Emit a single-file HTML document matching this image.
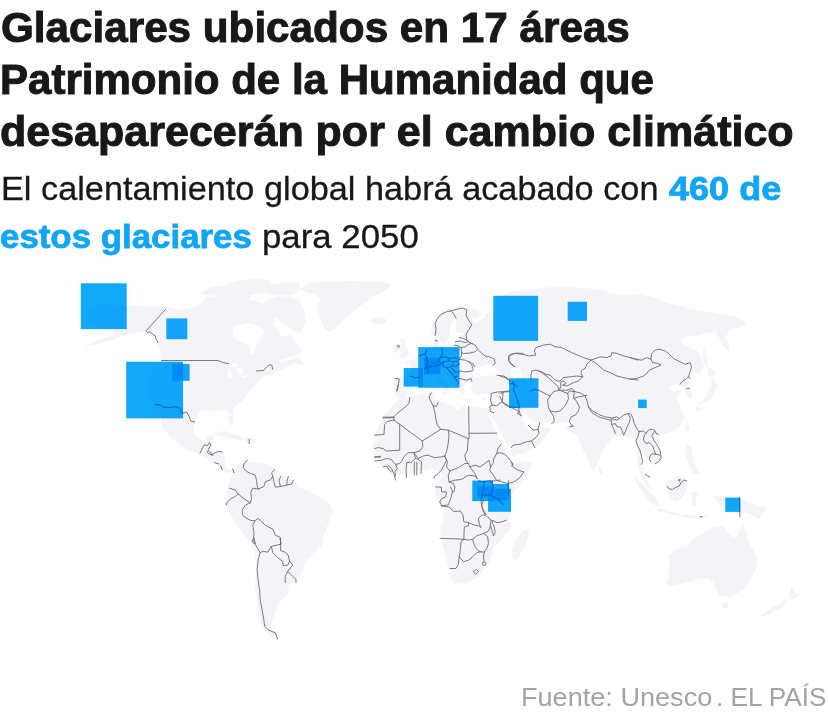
<!DOCTYPE html>
<html lang="es"><head><meta charset="utf-8"><title>Glaciares Patrimonio de la Humanidad</title>
<style>
html,body{margin:0;padding:0;background:#fff;}
body{width:828px;height:718px;overflow:hidden;position:relative;font-family:"Liberation Sans",sans-serif;}
.t{position:absolute;white-space:nowrap;transform-origin:0 0;color:#181818;}
.h{font-weight:bold;-webkit-text-stroke:1px #181818;}
.s{-webkit-text-stroke:0.3px #181818;}
.b{font-weight:bold;color:#10a5f5;-webkit-text-stroke:0.8px #10a5f5;}
.f{color:#a3a3a3;}
#map{position:absolute;left:0;top:0;}
</style></head><body>
<svg id="map" width="828" height="718" viewBox="0 0 828 718">
<g fill="#f4f4f8" stroke="#f4f4f8" stroke-width="0.6" stroke-linejoin="round">
<g id="ld">
<path d="M85.1,312.6 87.6,307.6 100.1,305.1 126.7,306.6 145.2,306.6 165.3,307.6 177.8,310.1 190.3,308.8 200.4,303.8 205.4,298.8 212.9,297.1 222.9,298.1 232.9,301.3 240.5,305.1 250.5,307.6 260.5,308.8 250.1,310.1 240.1,311.4 237.6,320.1 232.6,327.6 232.6,336.7 236.8,340.1 243.4,342.6 249.3,345.9 250.1,351.8 252.6,355.1 255.1,351.8 255.1,345.9 258.5,343.4 262.6,338.4 264.3,331.7 266.8,327.5 273.5,326.7 278.5,329.2 280.2,335.1 285.2,337.6 291,334.2 293.6,340.1 298.6,345.9 301.9,350.9 300.2,353.4 293.6,355.9 286.9,357.6 280.2,359.3 275.2,361 280.2,362.1 288.5,360.1 294.4,359.3 296.1,361.8 290.2,365.1 283.5,368.5 276.8,371.8 270.2,374.3 263.5,376.8 256.8,381.8 251.8,388.5 246.8,395.2 241.8,401 235.9,406.1 232.6,409.9 233.4,416.9 232.6,423.6 230.4,424.4 228.4,416.9 227.6,410.6 220,410.2 210,411.1 200,409.9 199.8,410.4 195.3,420.4 194.6,422.1 194.6,422.1 193.1,427.6 195.1,435.1 200.1,440.1 206.4,440.1 207.1,437.1 213.2,435.1 212.2,443.9 210.2,448.9 215.7,451.4 223.2,451.9 225.2,456.4 223.9,462.7 225.2,467.7 230.2,470.7 235.2,469.4 237.7,465.7 239.7,468.2 234,473.2 225.2,472.2 217.7,465.7 210.2,459.4 200.1,454.4 187.6,449.4 175.1,440.6 165,430.6 160,421.3 167.8,420.4 162.8,412.9 154.7,404.6 150.2,395.3 148.2,382.8 152.7,370.3 161.5,361.5 160.3,352.7 158.2,342.7 146,330.9 135.2,332.7 126.7,333.9 115.1,338.9 100.1,342.7 85.1,346.4 100.1,340.2 115.1,333.9 110.1,330.2 97.6,326.4 87.6,320.1Z"/>
<path d="M155.2,405.3 159,410.4 162.8,420.4 167.8,432.9 171.5,440.4 170.3,432.9 165.3,420.4 160.3,409.1Z"/>
<path d="M200.4,293.8 210.4,287.5 230.4,285 245.5,288.8 250.5,297.6 240.5,301.3 225.4,296.3 210.4,295.1Z"/>
<path d="M235.4,281.3 255.5,278.8 267,280 270.2,285 262.7,292.6 245.1,295.1 230.1,293.8 215,291.3Z"/>
<path d="M205,297.6 225.1,296.3 245.1,298.8 260.2,302.6 262.7,310.1 250.1,312.6 230.1,305.1 210,303.8Z"/>
<path d="M266.4,300.1 282.7,296.3 299,300.1 304,310.1 305.3,322.6 300.3,332.7 292.7,330.2 285.2,323.9 275.2,317.6 267.7,310.1Z"/>
<path d="M262.7,286.3 282.7,283 299,282.5 300.3,290.1 292.7,295.1 275.2,295.1 263.9,292.6Z"/>
<path d="M235.1,307.6 265.2,302.6 275.2,315.1 272.7,326.4 264.2,330.2 260.2,325.6 247.6,323.1 235.1,325.6 232.1,328.1 237.6,320.1 240.1,311.4Z"/>
<path d="M300.3,288.8 310.3,283.8 330.3,281.8 360.4,281.3 386.7,283 391,285.5 383,291.3 372.9,296.3 362.9,303.8 352.9,311.4 342.9,320.1 334.1,328.9 329.1,331.9 325.3,328.9 321.6,321.4 319,312.6 317.8,305.1 320.8,298.8 315.3,293.8 306.5,292.1Z"/>
<path d="M370.9,320.1 375.4,317.6 383,318.1 386.7,320.1 384.2,323.1 376.7,324.1 372.4,322.6Z"/>
<path d="M295.2,357.6 300.2,358.4 303.6,365.1 299.4,364.3 293.6,361.8Z"/>
<path d="M213.9,433.8 223.9,431.3 235.2,434.6 244,438.1 242.7,440.6 232.7,438.1 222.7,436.3Z"/>
<path d="M245.2,437.6 251.5,437.6 256.5,440.1 254,443.1 246.5,442.6Z"/>
<path d="M234,473.2 232.7,471.4 239,463.9 246.5,459.6 250.3,462.7 260.3,462.7 267.8,464.7 275.3,468.9 282.8,475.2 292.9,480.2 300.4,487.7 310.4,492.7 322.9,499 330.5,505.3 332.2,511.5 329.2,520.3 325.4,530.3 324.1,532.5 321.6,545.1 312.8,555.1 304,562.6 303.3,570.1 296.5,581.4 286.5,585.2 289,592.7 284,597.7 277.7,602.7 275.2,610.2 272.7,620.3 270.2,627.8 276.4,632.8 278.2,639 275.2,639 266.4,632.8 261.4,625.3 258.9,607.7 255.6,590.2 256.4,570.1 255.6,552.6 250.1,541.3 240.1,530 233.8,520 234,520.3 228.9,510.3 225.2,502.8 225.9,495.2 228.2,487.7 229.7,480.2 232.7,473.9Z"/>
<path d="M395,377.7 403.4,376.9 410.1,376 411.7,369.4 410.1,364.3 405,362.2 410.1,360.2 415.1,359.8 418.4,356.5 425.1,353.1 428.8,348.5 433.4,346.8 434.8,340.1 436.8,337.6 438.5,340.1 438.1,346 442.6,347.6 451.8,346 455.2,344.3 456,340.1 459.3,337.6 458.5,335.1 463.5,334.8 466.5,334.3 461.8,333.1 456.8,331.8 456,326.8 456.8,321.7 455.2,317.6 451.8,321.7 449.3,328.4 450.2,334.3 446.8,340.1 443.5,343.5 441,341.8 438.1,337.6 435.1,335.9 431.8,332.6 431.4,328.4 433.4,322.6 437.6,316.7 442.6,311.7 451,308.7 458.5,306.7 463.5,306.7 468.5,308.4 476,310 480.2,313.4 478.6,316.7 473.5,317.6 471,315.1 471.9,320.1 476,322.6 480.2,320.1 485.2,317.6 486.9,313.4 490.2,311.7 493.6,310 495,300 510,292 537,289 557,287 570,287 590,290 604,291 620,296 640,294 655,298 670,304 686,308 712,313 739,318 746,323.5 739.1,326.8 729.1,330.1 725.7,336.8 722.4,333.5 727.4,341.8 729.1,351.9 724.1,346.8 719.1,336.8 715.7,331.8 709,331.8 695.7,335.2 684,336.8 680.6,341.8 685.6,346.8 695.7,350.2 700.7,356.9 704,366.9 699,373.6 691.7,370.2 687.3,380.3 690.7,388.6 692.3,397 689,398.6 685.6,390.3 682.3,385.3 679,383.6 672.3,385.3 668.9,388.6 674,392 680.6,390.3 677.3,398.6 680.6,408.7 684,417 680.6,425.4 674,430.4 665.6,433.7 658.9,435.4 652.2,433.7 652.2,430.4 655.6,440.4 660.6,450.4 660.6,458.8 655.6,463.8 650.6,462.1 645.6,457.1 642.2,447.1 639.5,455.4 641.5,465.5 643.9,473.8 648.9,483.8 652.2,490.5 647.2,487.2 642.2,477.2 638.2,467.1 637.2,457.1 638.2,447.1 633.9,438.7 628,437 622,436 616,435.5 608.3,441.8 601.6,451.8 597.4,463.5 593.5,471.7 591.6,468.5 586.6,456.8 581.6,445.1 576.6,435.1 569.9,430.9 564.9,428.4 569,426.8 570.5,421.8 560.5,421.8 553.8,423.4 547.1,421.8 540.4,423.4 530.4,418.4 523.7,411.7 519.7,413.4 522,420.1 525.4,425.1 528.7,430.1 533.7,428.4 538.8,430.1 540.4,426.8 545,427.5 551,429.5 546.5,435.7 540.7,442.5 534.8,447.9 527,451.3 519.2,454.2 512,456.5 511,448.4 506.6,442.5 503.1,436.9 498.3,427.2 492.4,417.4 491,411.5 488.6,409.9 489.9,405.3 491.1,398.6 491.9,393.2 486.9,392.7 480.2,394.4 473.5,393.6 471,390.2 471.9,383.6 471.9,381.5 466.9,381.9 463.5,386.9 464.4,391.9 461.8,395.2 459.3,390.2 456.8,386.1 453.5,381.9 449.3,376.9 444.3,371 440.1,370.2 438.5,372.7 443.5,378.5 450.2,386.1 449.3,391.1 446,390.2 445.1,388.6 438.5,381 433.4,374.4 430.1,373.5 426.8,375.2 420.9,377.7 419.2,382.7 413.4,388.6 408.4,392.7 403.4,396.9 397.5,396.9 394.7,391.9 393.7,383.6Z"/>
<path d="M400.9,338.4 404.2,340.1 405,345.1 407.6,351 408.4,355.2 405,356.8 399.2,356.8 401.7,353.5 400,349.3 401.7,345.1 399.7,341Z"/>
<path d="M394.2,346 398.4,345.1 399.7,348.5 397.5,352.6 393.4,352.1 393,348.5Z"/>
<path d="M442.6,391.6 447.6,392.2 446,394.9 442.6,393.6Z"/>
<path d="M429.8,381 432.1,381 432.1,386.9 429.8,386.6Z"/>
<path d="M464.9,399.4 470.2,399.4 470.2,400.6 464.9,400.6Z"/>
<path d="M481.9,398.6 486.1,397.3 485.2,399.6 482.2,399.9Z"/>
<path d="M401.4,395.4 409.8,397 418.1,395.4 424.8,393.7 431.5,392.5 434.8,393.4 434,398.4 438.2,402.2 443.2,403.4 451.5,405.9 458.2,410.1 461.6,407.6 464.9,405.9 468.7,406.4 476.6,407.6 484.9,408.4 487.5,408.6 489.5,417.4 493,425.5 496.4,433.1 498.9,438.5 501.4,443.8 505.6,451.8 508.9,458.5 512.2,463.5 513.9,465.2 518.1,463.5 524.8,461.8 531.5,461.8 528.7,470.2 523.7,480.2 515.4,490.3 510.4,498.6 510.4,512 508.7,520.3 510.4,527 507,532 502,538.7 493.6,547.1 492,553.7 488.6,562.1 485.3,567.1 478.6,577.1 466.9,582.1 455.2,583.8 450.9,577.1 448.5,567.1 445.2,553.7 441.9,540.4 440.2,532 443.5,520.3 443.5,510.3 440.2,505.3 436.2,495.3 435.2,486.9 440.2,480.2 443.5,475.2 438.5,470.2 431.8,468.5 423.5,470.2 413.5,471.9 403.4,473.6 393.4,475.2 386.7,470.2 380,463.5 375,455.2 373.4,446.8 375,436.8 378.4,426.8 383.4,416.8 390.1,408.4 396.8,401.7Z"/>
<path d="M527.1,528.7 528.7,533.7 525.4,543.7 520.4,553.7 515.4,560.4 512,557.1 513,547.1 517,538.7 522,532Z"/>
<path d="M599.1,466.9 601.6,468.5 602.5,473.5 600,474.4 598.6,470.2Z"/>
<path d="M709,368.6 715.7,370.2 714,376.9 708.4,375.2Z"/>
<path d="M714,378.6 717.4,386.9 712.4,397 704,402 699,405.3 700.7,402 707.4,395.3 710.7,386.9 711.7,380.3Z"/>
<path d="M697.3,405.3 700.7,408.7 698.3,412 695.7,408.7Z"/>
<path d="M704,348.5 706.4,356.9 707.4,366.9 705,365.2 703,355.2Z"/>
<path d="M687.3,423.7 689.7,427 687.6,432 685.6,427.7Z"/>
<path d="M655.6,437.1 659.6,437.7 658.2,441.1 654.9,440.4Z"/>
<path d="M685.6,443.7 690.7,447.1 692.3,457.1 695.7,467.1 699,473.8 694,473.8 689,463.8 685.6,453.8Z"/>
<path d="M635,477.5 641.3,482.5 650.1,492.6 657.6,502.6 658.8,506.3 652.6,503.8 645.1,495.1 637.5,485Z"/>
<path d="M657.6,508.8 670.1,511.4 680.2,513.9 680.2,515.9 668.9,513.9 657.6,510.9Z"/>
<path d="M666.4,482.5 675.1,477.5 685.7,478.8 687.7,485 683.9,495.1 677.6,501.3 670.1,498.8 666.4,490.1Z"/>
<path d="M691.4,492.6 695.2,491.3 700.2,493.8 696.4,496.3 695.2,505.1 692.7,505.1 692.7,497.6Z"/>
<path d="M682.7,515.1 702.7,516.6 706.5,513.9 706.5,515.9 699.7,518.1 682.7,517.1Z"/>
<path d="M715.2,496.3 725.3,497.6 740.3,498.8 750.3,502.6 760.4,507.6 766.6,506.3 764.1,511.4 759.1,518.9 752.8,515.1 745.3,512.6 737.8,513.9 730.3,510.1 720.3,505.1 716.5,500.1Z"/>
<path d="M668.9,555.2 673.9,551.5 685.2,546.4 692.7,540.2 700.2,535.2 707.7,530.2 715.2,526.4 722.8,526.4 727.8,532.7 732.8,537.7 737.8,536.4 740.3,528.9 742.8,523.1 745.3,530.2 747.8,540.2 752.8,550.2 757.1,560.2 755.3,570.3 750.3,580.3 744.1,589 735.3,594.1 727.8,596.6 720.3,595.3 716.5,590.3 714,582.8 707.7,577.8 697.7,579 687.7,581.5 677.6,584 668.9,585.8 666.4,582.8 668.9,575.3 669.6,565.2Z"/>
<path d="M721.5,604.1 727.8,602.8 727.3,607.3 722.8,608.3Z"/>
<path d="M791.7,586.5 794.2,592.8 799.2,594.1 795.4,597.8 790.4,599.1 789.9,594.1Z"/>
<path d="M787.9,600.3 782.9,606.6 772.9,611.6 764.1,616.6 760.4,615.4 770.4,609.1 780.4,604.1 785.4,599.8Z"/>
</g></g>
<g fill="#fff">
<path d="M227.6,363.5 235.9,362.6 237.6,366 233.4,366.8 229.2,366Z"/>
<path d="M230.1,368.5 232.1,376.8 229.4,378.5 227.7,373.5Z"/>
<path d="M235.9,367.6 241.8,368.5 243.4,372.6 240.1,375.2 237.6,371Z"/>
<path d="M240.1,376.3 248.4,374.3 255.1,371.5 250.1,374.3 243.4,377.7Z"/>
<path d="M473.5,369.9 476,367.2 481.1,366 485.2,364.8 488.6,363.5 492.8,365.2 496.9,364.3 495.3,367.7 500.3,371 502.8,375.2 496.9,376 488.6,375.2 481.1,376.5 475.2,377.2 472.7,374.4Z"/>
<path d="M511,369 516,367.5 521,369.5 522,375 524,382 526,390 524,396 519,394 517,386 514,379 511,374Z"/>
</g>
<g fill="none" stroke="#6c6c70" stroke-width="0.9" stroke-linejoin="round" stroke-linecap="round">
<g id="bd">
<path d="M165.3,309.6 146,330.9 147.7,332.7 150.2,331.9 153.2,334.7 155.2,335.7 156,338.9 158.2,342.7"/>
<path d="M161.5,360.5 182.8,360.5 217.9,360.5 224.2,363 228.4,363.5"/>
<path d="M256.5,371 263.5,370.5 266.8,366.8 269.3,364.8 271.8,365.1 272.7,369.3"/>
<path d="M154.7,404.6 159,404.6 162.8,407.1 170.3,407.6 175.3,406.6 179.8,408.3 182.8,413.4 186.6,411.9 189.1,416.6 190.8,421.1 194.6,422.1"/>
<path d="M249.2,439.2 249.2,443.7"/>
<path d="M200.1,453.1 202.6,447.6 204.6,444.6 207.1,445.9 209.6,442.6 210.7,445.1 208.4,449.1 207.6,453.1 211.4,455.1 215.7,452.6 218.2,451.4 222.2,451.9"/>
<path d="M209.6,451.4 212.7,455.6"/>
<path d="M214.7,462.7 218.9,463.9"/>
<path d="M220.7,465.7 222.2,469.7"/>
<path d="M232.7,468.9 234,472.7"/>
<path d="M247.2,460.2 244,463.9 243.2,467.7 246.5,471.4 250.3,473.2 255.3,475.2 256.5,480.2 257.3,486.5 258.3,489"/>
<path d="M258.3,489 264,486.5 265.3,481.5 270.3,480.2 272.8,476.4 271.6,472.7 274.6,469.7"/>
<path d="M272.8,476.4 274.1,482.7 275.3,487.2 280.3,486.5 279.1,480.2 280.8,476.4"/>
<path d="M280.3,486.5 286.6,485.2 287.3,480.2 288.3,476.4"/>
<path d="M286.6,485.2 291.6,484 293.4,480.2"/>
<path d="M258.3,489 252.8,488.2 250.8,492.2 251.5,499 250.3,502.8"/>
<path d="M229.7,488.2 235.2,490.2 238.2,494 235.2,496.5 230.2,499 227.2,502.3 226.4,504.8"/>
<path d="M238.2,494 243.2,498.2 250.3,502.8"/>
<path d="M250.3,502.8 245.2,505.3 242.2,510.3 242.7,515.3 246.5,518.3 250.3,520.3 254.8,520.8"/>
<path d="M254.8,520.8 252.8,525.3 254,532.8 253.3,540.4 255.3,544.1 253.9,537.5 252.1,541.3 255.6,545.1 260.2,552.6"/>
<path d="M254.8,520.8 258.3,518.3 261.5,521.6 265.3,525.3 272.8,529.1 275.3,535.3 280.3,537.3 280.8,544.1 280.2,538 280.7,543.8"/>
<path d="M260.2,552.6 262.7,551.3 267.7,552.1 271.4,546.3 280.7,544.3"/>
<path d="M271.4,546.3 272.7,552.6 277.7,557.6 282.7,561.4 283.2,565.6 287.7,565.1 289.7,561.4 288.2,555.1 284.7,552.1 280.7,550.6 280.7,543.8"/>
<path d="M289.7,561.4 292.7,565.1 287.7,571.4 285.2,576.4 285.2,582.7"/>
<path d="M287.7,571.4 292.7,576.4 296,579.6 296,582.7"/>
<path d="M260.2,552.6 258.1,560.1 257.1,570.1 258.1,580.2 259.6,590.2 260.2,600.2 262.2,610.2 263.9,620.3 264.7,626.5 268.9,630.3 275.2,632.8 277.7,639"/>
<path d="M435.1,335.4 436,329.3 435.1,323.4 437.6,318.4 441,314.2 446.8,311.7 451,310.9 455.2,309.7 459.3,308.7 462.7,308 466.9,310 466,315.1 468.5,320.1 471.9,325.1 468.5,330.1 466,334.3 466.9,340.1"/>
<path d="M451,310.9 454.3,314.7 456,318.1"/>
<path d="M459.3,337.6 463.5,338.4 466.9,340.1 468.5,341.8 471.9,343.5"/>
<path d="M455.2,341.8 460.2,341 465.2,342.6 468.5,341.8"/>
<path d="M454.3,345.1 458.5,346 461,347.6 465.2,346.8 468.5,344.3 471.9,343.5"/>
<path d="M461,347.6 461.8,352.6 463.5,353.5 469.4,353.1 475.2,351.8 477.7,349.3 475.2,345.1 471.9,343.5"/>
<path d="M477.7,349.3 481.1,352.6 485.2,356 489.4,356.8 494.4,359.3 495.3,363.5 492.8,365.2"/>
<path d="M461.8,352.6 461,356.8 459.3,359.3 465.2,360.2 470.2,362.2 473.5,364.3 474.4,366.8"/>
<path d="M468.5,361.8 471.9,365.2 472.7,368.5"/>
<path d="M459.3,371 465.2,371.9 471.9,371 473.5,369.9"/>
<path d="M459.3,378.5 466.9,380.2 471,378.5 471.9,381"/>
<path d="M496.9,375.2 503.6,376 507.8,378.5 509.5,381"/>
<path d="M514.5,366.8 509.5,361.8 508.6,356.8 510.3,354.3 517,353.1 523,353.5"/>
<path d="M395,378.5 399.2,379 398.4,385.2 397,391.1"/>
<path d="M410.1,376 415.1,377.7 419.2,377.2"/>
<path d="M397,346 398.7,345.1 399.7,346.8 398,347.6"/>
<path d="M419.2,356 425.1,353.5 426.8,350.1"/>
<path d="M425.1,353.5 427.6,360.2 426.8,365.2 425.1,368.5"/>
<path d="M425.1,368.5 429.3,366.8 433.4,366 438.5,365.2"/>
<path d="M426.8,365.2 428.4,371.9 427.6,373.5"/>
<path d="M441.8,347.6 442.6,353.5 440.1,357.7 438.5,360.2 441,363.5 438.5,365.2"/>
<path d="M440.1,357.7 445.1,356.8 449.3,358.5 448.5,361 443.5,361.8 441,363.5"/>
<path d="M449.3,358.5 455.2,357.7 459.3,359.3"/>
<path d="M448.5,361 453.5,361.8 458.5,361"/>
<path d="M443.5,361.8 442.6,366 446.8,367.7 451,366.8 453.5,363.5"/>
<path d="M451,366.8 456.8,366 459.3,363.5"/>
<path d="M446.8,367.7 449.3,371 451.8,373.5 454.3,376.9 456.8,380.2 458.5,383.6"/>
<path d="M451.8,368.5 455.2,371.9 459.3,372.7"/>
<path d="M454.3,376.9 458.5,376"/>
<path d="M435.1,340.1 437.6,341"/>
<path d="M398.1,385 396.7,390.8"/>
<path d="M409.8,397.5 408.9,403.4 405.6,406.7 401.4,410.1 397.2,413.4 393.9,416.7 393.9,420.1"/>
<path d="M383,417.2 393.9,417.1"/>
<path d="M383,417.9 393.9,417.7"/>
<path d="M374.7,435.1 383.9,434.6 384.7,424.3 387.2,421.4 393.9,420.1 399.7,424.3"/>
<path d="M399.7,424.3 399.7,450.2 386.4,451 383,448.5 378,447.6 374.7,448.5"/>
<path d="M399.7,424.3 422.3,441 440.7,429.3"/>
<path d="M431.5,393 429.1,396.7 430.1,400 433.2,405.9 434.8,411.7 435.7,418.4 437.3,425.1 440.7,429.3"/>
<path d="M433.2,405.9 436.5,406.4 438.2,402.2"/>
<path d="M440.7,429.3 448.2,430.1 468.2,438.5"/>
<path d="M468.7,406.7 469.1,438.5 468.2,438.5"/>
<path d="M469.1,433.3 496.6,433.1"/>
<path d="M448.2,430.1 449,435.1 448.2,443.5 446.5,451.8 444.8,456"/>
<path d="M468.2,438.5 467.4,450.2 464.9,455.2 465.7,460.2 468.2,463.5 469.9,466.9"/>
<path d="M422.3,441 422.8,446.8 419.8,451 413.9,452.7 408.1,452.7 403.9,456.8 401.4,461.8 399.7,463.5 395.6,464.4"/>
<path d="M413.9,452.7 418.1,458.5 423.1,456 428.1,455.2 434.8,457.7 441.5,456.8 444.8,456"/>
<path d="M413.9,452.7 415.6,458.5 418.1,459.3 421.5,461.8 421.1,473.5"/>
<path d="M406.8,462.7 406.1,468.5 406.4,477.7"/>
<path d="M406.8,462.7 411.4,462.2 415.6,458.5"/>
<path d="M414.3,462.2 414.3,474.9"/>
<path d="M416.8,462.2 416.8,474.9"/>
<path d="M444.8,456 446.5,460.2 444,465.2 441.5,470.2 438.2,473.5 434.8,476 434,478.6"/>
<path d="M444.8,456 447.4,461.8 446.5,466.9 449.9,471 448.2,476 449,481.9 453.2,483.6"/>
<path d="M449.9,471 458.2,467.7 464.9,463.5 468.2,463.5"/>
<path d="M449,481.9 454.9,480.2 461.6,479.4 468.2,475.2 474.9,476 477.4,478.6"/>
<path d="M469.9,466.9 474.9,473.5 477.4,478.6"/>
<path d="M469.9,466.9 474.9,465.2 479.9,466.9 484.9,463.5 489.1,460.2 490.5,466.9"/>
<path d="M374.7,456.8 380.5,456.3"/>
<path d="M374.7,457.5 380.5,457"/>
<path d="M374.7,461 381.4,460.2 386.4,458.5 391.4,459.3 393.1,461.8 395.6,464.4"/>
<path d="M383,466.9 386.4,466 388.9,469.4 391.4,471.9"/>
<path d="M388,465.5 391.4,468.5 393.9,473.5 395.6,480.2"/>
<path d="M395.6,464.4 397.2,468.5 394.7,471.9 395.6,476"/>
<path d="M435.7,486.9 441.5,487.2 441.5,491.9 446.5,491.9 445.7,496.9 441.5,498.6 439.8,501.9"/>
<path d="M450.7,486.9 452.4,491.9 450.7,498.6 448.2,504.9 441.7,505.8"/>
<path d="M453.2,483.6 454.9,486.9 454,491.9 452.4,491.9"/>
<path d="M501.4,443.8 498,448.5 496.7,453.5 499.7,452.7 504.7,454.3 508.9,458.5 511.4,461.8 513.1,466.9 518.1,470.2 523.9,471.9 519.8,477.7 513.9,481.9 508.1,483.6 501.4,481.9 496.4,480.2 493.9,476 489.7,470.2 490.5,466.9 493,463.5 493.9,458.5 496.7,453.5"/>
<path d="M511.4,461.8 513.4,464.2 511.4,466"/>
<path d="M508.1,483.6 508.9,488.6 508.4,495.3"/>
<path d="M511.4,447.6 513.1,445.1 519.8,444.3 526.4,441.8 531.5,441 536.5,436.8 539,433.4 538.1,429.3 539.8,422.6"/>
<path d="M531.5,441 534.8,447.6"/>
<path d="M528.1,425.1 533.1,430.1 538.1,429.3"/>
<path d="M518.1,407.6 519.8,411.7 517.3,413.4 521.8,415.9"/>
<path d="M491.4,393.4 497.2,392 503.1,391.7 508.9,390.8"/>
<path d="M491.4,393.4 490.5,400 492.2,405 489.7,406.7 490.5,411.7 493.9,412.6"/>
<path d="M503.1,392.5 502.2,401.7 496.4,405.9 492.2,405"/>
<path d="M502.2,401.7 509.7,406.7 518.1,407.6"/>
<path d="M441.7,505.9 449.3,507 453.8,511.7 460.1,510.9 463.1,515.1 463.8,521.7 468.5,522.6 474.3,525.1 479.3,525.9 481,527.6 479.3,524.2 478.5,518.4 481.8,515.1 485.2,515.1 482.7,510 481.8,505 483.5,500"/>
<path d="M485.2,515.1 489.4,518.4 491,520.1 490.2,525.1 491.9,530.1 493.5,535.9 495.2,532.6 494.4,527.6 492.7,523.4 491.9,520.1 496.9,522.6 502.7,521.7 506.6,520.1"/>
<path d="M468.5,522.6 468.5,525.9 464.3,526.8 463.8,539.3"/>
<path d="M440.1,538.4 455.1,538.8 463.8,539.3 468.5,540.1 472.6,539.3 476.8,535.9 483.5,533.4 488.5,530.9 490.5,525.9"/>
<path d="M472.6,539.3 474.3,545.1 476.8,549.3 480.2,551.8 484.3,552.1"/>
<path d="M483.5,533.4 487.7,536.8 488.5,543.5 486.8,548.5 484.3,552.1 483.5,556.8 484,561.5"/>
<path d="M463.8,539.3 461,541.8 460.1,551.8 459.3,556.8 458.4,564.3 455.9,568.5 450.1,568.5"/>
<path d="M459.3,556.8 463.5,561.8 468.5,560.2 472.6,556.8 476.8,552.6 480.2,551.8"/>
<path d="M482.8,562.8 484.3,561.8 486,563.2 485.5,565.2 483.5,565.5 482.5,564.2 482.8,562.8"/>
<path d="M473.5,571.5 476.5,569.4 478.5,571.9 475.5,574.4 473.5,571.5"/>
<path d="M478.5,480.9 483.5,481.8 488.5,480.9 493.5,480.9 500.2,480.1"/>
<path d="M484.3,481.4 483.5,488.4 481.8,495.1 481,501 481.8,506.8 484.3,511.8 486,514.3"/>
<path d="M491.8,481.8 493.5,486.8 491.8,491.8 490.2,495.1"/>
<path d="M481.8,495.1 490.2,495.1 496.8,498.5 503.5,504.3"/>
<path d="M508.5,480.9 508.2,488.4"/>
<path d="M439.9,502 441.7,505.8"/>
<path d="M515,366.8 510.9,364.3 508.4,360.1 509.2,355.9 514.2,353.4 521.7,354.2 529.2,355.9 535.9,355.1 534.2,350.9 535.9,347.6 543.4,345.1 550.1,344.2 555.1,346.7 561.8,347.6 566.8,350.1 571.8,352.6 577.7,355.1 583.5,357.6 591,360.1"/>
<path d="M530.9,380.1 530.9,376 531.7,371 535.9,370.1 541.8,371.8 545.9,374.3 550.1,375.1 553.5,378.5 556.8,381 560.1,381 563.5,377.6 570.2,376.8 576.8,376 582.7,376.8 581,372.6 581.9,370.1 585.2,368.4 586.9,364.3 591,360.1"/>
<path d="M538.4,371 541.8,372.6 548.4,377.6 553.5,382.6 557.6,386 559.3,390.2"/>
<path d="M530.1,391 535.1,389.3 538.4,390.2 545.1,393.5 550.1,396 553.5,391.8 559.3,390.2"/>
<path d="M559.3,390.2 561,386 560.1,382.6 563.5,381 566,383.5 562.6,385.2 566.8,386 570.2,384.3 573.5,382.6 578.5,381 582.7,376.8"/>
<path d="M561,390.2 566.8,390.2 571.8,388.5 574.3,391.5"/>
<path d="M550.1,396 547.6,400.2 548.4,406.9 550.1,411 555.1,411.9 560.1,411 564.3,406.9 566.8,402.7 568.5,398.5 567.7,393.5 569.3,391 574.3,391.5"/>
<path d="M559.3,390.2 563.5,391.8 567.7,393.5"/>
<path d="M550.1,411 553.5,416.1 554.3,421.1 551.8,423.6"/>
<path d="M574.3,391.5 573.5,398.5 576,400.2 579.4,406.9 578.5,411 575.2,415.2 571,416.9 569.3,421.1 571,424.4 573.5,426.1 569.3,426.9"/>
<path d="M573.5,398.5 578.5,396.8 583.5,396 586.9,395.2"/>
<path d="M574.3,391.5 581.9,393.5 585.2,396 586.9,400.2 587.7,403.5 588.5,406.9"/>
<path d="M588.5,406.9 592.7,411 598.6,414.4 605.2,416.9 611.1,417.7 611.1,420.2 606.9,419.4 598.6,416.9 591.9,412.7 588.5,406.9"/>
<path d="M612.8,417.7 616.9,416.9 619.4,418.6 616.9,419.9 612.8,419.7 612.8,417.7"/>
<path d="M611.1,420.2 611.9,425.2 614.4,430.3 615.3,433.6"/>
<path d="M619.4,418.6 623.6,415.2 627.8,413.6 630.3,417.7 629.5,421.9 627,426.9 625.3,431.9 623.6,435.3 622,430.3 620.3,426.9 616.9,426.9 615.3,423.6 611.9,424.4"/>
<path d="M591,360.1 600.2,356.8 606.9,357.6 611.1,355.9 611.9,352.6 616.9,353.4 623.6,355.9 630.3,357.6 638,360.1"/>
<path d="M591,360.1 596.1,363.4 600.2,366.8 603.6,370.1 610.3,372.6 616.9,376 627,378.5 638,380.1"/>
<path d="M500,376 505,377.6 509.2,380.1"/>
<path d="M500,393.5 505,391.8 509.2,391.8"/>
<path d="M500,396.8 503.3,403.5 509.2,406.9 513.4,408.5 518.4,411 520.9,415.2"/>
<path d="M510,383.5 515,384.3 517.5,386.8"/>
<path d="M512.5,381.8 514.2,386 513.4,390.2 515.9,395.2 518.4,403.5 520,408.5"/>
<path d="M630,357.6 636.7,359.3 641.7,360.1 646.7,357.6 650.9,359.3 651.7,353.4 655.1,350.1 659.2,349.2"/>
<path d="M630,379.3 636.7,378.5 643.4,376 646.7,373.5 649.2,370.1 655.1,367.6 660.9,365.1 657.6,363.4 652.6,362.6 650.9,359.3"/>
<path d="M659.2,349.2 665.1,350.9 669.3,354.2 673.4,358.4 680.1,361.8 685.1,364.3 690.1,362.6 691.5,366.8 690.1,371.8 688.5,376.8 686,379.3 682.6,381 680.1,384.3"/>
<path d="M688.5,376.8 690.1,378.5"/>
<path d="M686.8,388.8 689.3,388.2"/>
<path d="M627.9,413.5 630.9,414.2 632.6,417.5 634.2,423.4 636.7,428.4 639.2,431.7"/>
<path d="M639.2,431.7 637.6,437.6 635.9,440.9 637.6,445.9 640.1,450.9 641.7,456.8 642.6,461.8 641.4,464.3"/>
<path d="M639.2,431.7 643.4,430.9 645.9,433.4 644.2,435.9 643.4,440.1 645.9,443.4 649.3,442.6 652.6,445.9 654.3,450.9 655.9,454.3"/>
<path d="M645.9,433.4 648.4,430 652.6,429.2 655.1,430.9 655.9,433.4 658.4,434.2"/>
<path d="M654.3,431.7 651.8,435.9 654.3,440.9 657.6,445.9 660.1,450.9 661,455.9 661,458.4 658.4,461.8 655.1,463.8"/>
<path d="M650.9,461.8 649.3,459.3 650.1,455.9 651.8,453.8 655.9,454.3 660.1,455.1"/>
<path d="M645.1,474.3 647.6,476 649.8,476.8"/>
<path d="M667.1,486.5 669.3,488.9 672.6,489.4 676,487.2 679.3,486 681,482.7 683.5,480.2 686.8,481"/>
<path d="M678.2,480.2 680.2,479.3 679.3,481.5"/>
<path d="M739.8,497.7 739.8,516.9"/>
<path d="M700.2,516.6 702.7,516.9"/>
</g></g>
<g fill="#08a5fa" fill-opacity="0.96">
<rect x="80.8" y="283.3" width="45.9" height="45.8"/>
<rect x="166.3" y="318.4" width="21" height="20.8"/>
<rect x="126.2" y="361.7" width="56.9" height="56.7"/>
<rect x="172.3" y="364" width="17.3" height="16.8"/>
<rect x="403.7" y="368" width="19.3" height="18.6"/>
<rect x="418.2" y="347.1" width="41.3" height="40.7"/>
<rect x="424" y="357.7" width="16.4" height="16.4"/>
<rect x="493.3" y="295.8" width="44.8" height="45.1"/>
<rect x="567.7" y="301.8" width="19.3" height="19.1"/>
<rect x="509.1" y="378.3" width="29.3" height="29.5"/>
<rect x="638.1" y="399.6" width="8.6" height="8.5"/>
<rect x="472.3" y="480.6" width="20.5" height="20.5"/>
<rect x="488.1" y="488.9" width="22.9" height="22.9"/>
<rect x="492.5" y="484" width="16.3" height="16.3"/>
<rect x="477.2" y="486.2" width="16.3" height="11.4"/>
<rect x="725.3" y="497.6" width="14.9" height="14.3"/>
</g>
<g fill="#0088f6" fill-opacity="0.8">
<rect x="172.3" y="364.0" width="10.8" height="16.8"/>
<rect x="418.2" y="368.0" width="4.8" height="18.6"/>
<rect x="424.0" y="357.7" width="16.4" height="16.4"/>
<rect x="488.1" y="488.9" width="4.7" height="12.2"/>
<rect x="492.5" y="484.0" width="0.3" height="16.3"/>
<rect x="477.2" y="486.2" width="15.6" height="11.4"/>
<rect x="492.5" y="488.9" width="16.3" height="11.4"/>
<rect x="488.1" y="488.9" width="5.4" height="8.7"/>
<rect x="492.5" y="486.2" width="1.0" height="11.4"/>
</g>
<clipPath id="sq">
<rect x="80.8" y="283.3" width="45.9" height="45.8"/>
<rect x="166.3" y="318.4" width="21" height="20.8"/>
<rect x="126.2" y="361.7" width="56.9" height="56.7"/>
<rect x="172.3" y="364" width="17.3" height="16.8"/>
<rect x="403.7" y="368" width="19.3" height="18.6"/>
<rect x="418.2" y="347.1" width="41.3" height="40.7"/>
<rect x="424" y="357.7" width="16.4" height="16.4"/>
<rect x="493.3" y="295.8" width="44.8" height="45.1"/>
<rect x="567.7" y="301.8" width="19.3" height="19.1"/>
<rect x="509.1" y="378.3" width="29.3" height="29.5"/>
<rect x="638.1" y="399.6" width="8.6" height="8.5"/>
<rect x="472.3" y="480.6" width="20.5" height="20.5"/>
<rect x="488.1" y="488.9" width="22.9" height="22.9"/>
<rect x="492.5" y="484" width="16.3" height="16.3"/>
<rect x="477.2" y="486.2" width="16.3" height="11.4"/>
<rect x="725.3" y="497.6" width="14.9" height="14.3"/>
</clipPath>
<g clip-path="url(#sq)" fill="#0050d0" fill-opacity="0.05"><use href="#ld"/></g>
<g clip-path="url(#sq)" fill="none" stroke="#0060c4" stroke-opacity="0.8" stroke-width="1.1" stroke-linejoin="round" stroke-linecap="round">
<use href="#bd"/>
</g></svg>
<div class="t h" id="h1" style="font-size:42.5px;line-height:42.5px;left:0.51px;top:6.92px;transform:scaleX(0.9932)">Glaciares ubicados en 17 áreas</div>
<div class="t h" id="h2" style="font-size:42.5px;line-height:42.5px;left:0.12px;top:58.82px;transform:scaleX(0.9889)">Patrimonio de la Humanidad que</div>
<div class="t h" id="h3" style="font-size:42.5px;line-height:42.5px;left:0.19px;top:110.72px;transform:scaleX(1.0120)">desaparecerán por el cambio climático</div>
<div class="t s" id="s1a" style="font-size:34px;line-height:34px;left:0.88px;top:171.21px;transform:scaleX(1.0082)">El calentamiento global habrá acabado con</div>
<div class="t s b" id="s1b" style="font-size:34px;line-height:34px;left:668.50px;top:171.21px;transform:scaleX(1.0600)">460 de</div>
<div class="t s b" id="s2a" style="font-size:34px;line-height:34px;left:0.08px;top:218.51px;transform:scaleX(1.0250)">estos glaciares</div>
<div class="t s" id="s2b" style="font-size:34px;line-height:34px;left:261.65px;top:218.51px;transform:scaleX(1.0240)">para 2050</div>
<div class="t f" id="ft1" style="font-size:26px;line-height:26px;left:521.42px;top:683.99px;transform:scaleX(1.0420)">Fuente: Unesco </div>
<div class="t f" id="ft2" style="font-size:26px;line-height:26px;left:715.89px;top:683.99px;transform:scaleX(1.0056)">. EL PAÍS</div>
</body></html>
